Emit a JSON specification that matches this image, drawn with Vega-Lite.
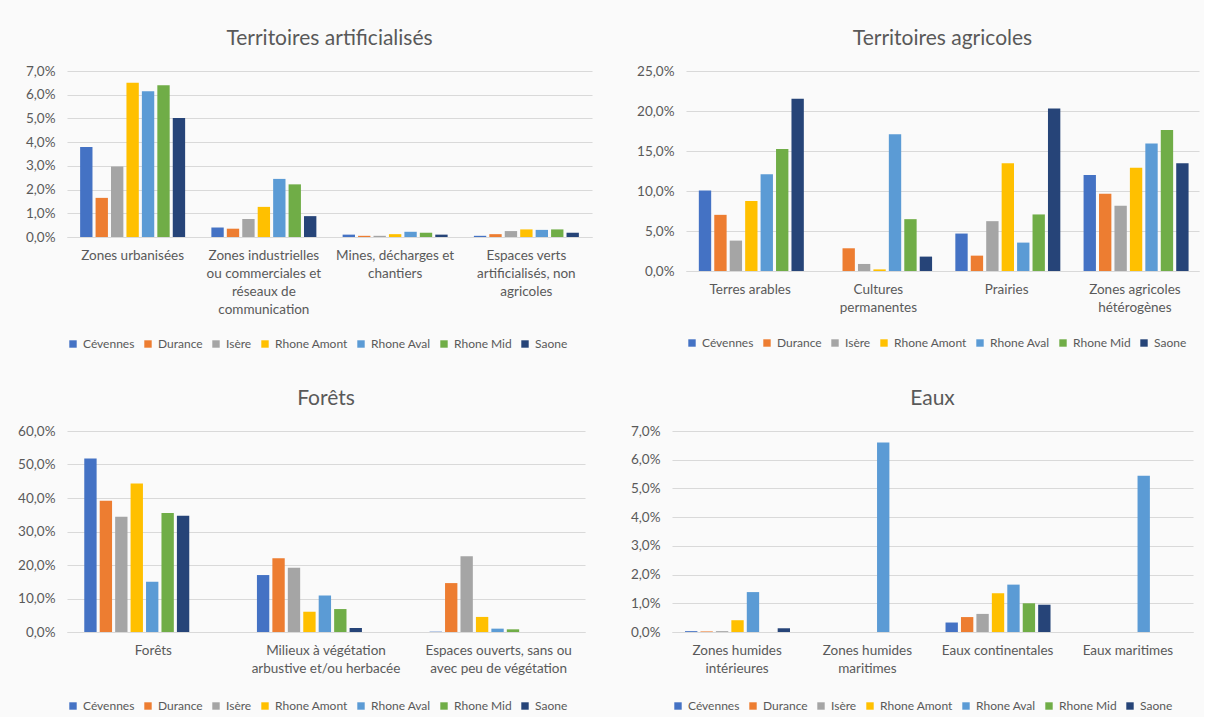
{
  "$schema": "https://vega.github.io/schema/vega-lite/v6.json",
  "background": "#fafafa",
  "padding": {"left": 17, "top": 28, "right": 5, "bottom": 5},
  "datasets": {
    "d": [
      {"p":"A","c":"Zones urbanisées","s":"Cévennes","v":3.79},
      {"p":"A","c":"Zones urbanisées","s":"Durance","v":1.65},
      {"p":"A","c":"Zones urbanisées","s":"Isère","v":2.97},
      {"p":"A","c":"Zones urbanisées","s":"Rhone Amont","v":6.5},
      {"p":"A","c":"Zones urbanisées","s":"Rhone Aval","v":6.15},
      {"p":"A","c":"Zones urbanisées","s":"Rhone Mid","v":6.4},
      {"p":"A","c":"Zones urbanisées","s":"Saone","v":5.02},
      {"p":"A","c":"Zones industrielles|ou commerciales et|réseaux de|communication","s":"Cévennes","v":0.4},
      {"p":"A","c":"Zones industrielles|ou commerciales et|réseaux de|communication","s":"Durance","v":0.35},
      {"p":"A","c":"Zones industrielles|ou commerciales et|réseaux de|communication","s":"Isère","v":0.76},
      {"p":"A","c":"Zones industrielles|ou commerciales et|réseaux de|communication","s":"Rhone Amont","v":1.27},
      {"p":"A","c":"Zones industrielles|ou commerciales et|réseaux de|communication","s":"Rhone Aval","v":2.45},
      {"p":"A","c":"Zones industrielles|ou commerciales et|réseaux de|communication","s":"Rhone Mid","v":2.22},
      {"p":"A","c":"Zones industrielles|ou commerciales et|réseaux de|communication","s":"Saone","v":0.88},
      {"p":"A","c":"Mines, décharges et|chantiers","s":"Cévennes","v":0.1},
      {"p":"A","c":"Mines, décharges et|chantiers","s":"Durance","v":0.05},
      {"p":"A","c":"Mines, décharges et|chantiers","s":"Isère","v":0.05},
      {"p":"A","c":"Mines, décharges et|chantiers","s":"Rhone Amont","v":0.12},
      {"p":"A","c":"Mines, décharges et|chantiers","s":"Rhone Aval","v":0.22},
      {"p":"A","c":"Mines, décharges et|chantiers","s":"Rhone Mid","v":0.18},
      {"p":"A","c":"Mines, décharges et|chantiers","s":"Saone","v":0.1},
      {"p":"A","c":"Espaces verts|artificialisés, non|agricoles","s":"Cévennes","v":0.05},
      {"p":"A","c":"Espaces verts|artificialisés, non|agricoles","s":"Durance","v":0.12},
      {"p":"A","c":"Espaces verts|artificialisés, non|agricoles","s":"Isère","v":0.25},
      {"p":"A","c":"Espaces verts|artificialisés, non|agricoles","s":"Rhone Amont","v":0.32},
      {"p":"A","c":"Espaces verts|artificialisés, non|agricoles","s":"Rhone Aval","v":0.3},
      {"p":"A","c":"Espaces verts|artificialisés, non|agricoles","s":"Rhone Mid","v":0.32},
      {"p":"A","c":"Espaces verts|artificialisés, non|agricoles","s":"Saone","v":0.18},

      {"p":"B","c":"Terres arables","s":"Cévennes","v":10.07},
      {"p":"B","c":"Terres arables","s":"Durance","v":7.02},
      {"p":"B","c":"Terres arables","s":"Isère","v":3.8},
      {"p":"B","c":"Terres arables","s":"Rhone Amont","v":8.74},
      {"p":"B","c":"Terres arables","s":"Rhone Aval","v":12.08},
      {"p":"B","c":"Terres arables","s":"Rhone Mid","v":15.26},
      {"p":"B","c":"Terres arables","s":"Saone","v":21.53},
      {"p":"B","c":"Cultures|permanentes","s":"Cévennes","v":0},
      {"p":"B","c":"Cultures|permanentes","s":"Durance","v":2.84},
      {"p":"B","c":"Cultures|permanentes","s":"Isère","v":0.88},
      {"p":"B","c":"Cultures|permanentes","s":"Rhone Amont","v":0.2},
      {"p":"B","c":"Cultures|permanentes","s":"Rhone Aval","v":17.1},
      {"p":"B","c":"Cultures|permanentes","s":"Rhone Mid","v":6.48},
      {"p":"B","c":"Cultures|permanentes","s":"Saone","v":1.8},
      {"p":"B","c":"Prairies","s":"Cévennes","v":4.68},
      {"p":"B","c":"Prairies","s":"Durance","v":1.92},
      {"p":"B","c":"Prairies","s":"Isère","v":6.23},
      {"p":"B","c":"Prairies","s":"Rhone Amont","v":13.46},
      {"p":"B","c":"Prairies","s":"Rhone Aval","v":3.55},
      {"p":"B","c":"Prairies","s":"Rhone Mid","v":7.07},
      {"p":"B","c":"Prairies","s":"Saone","v":20.3},
      {"p":"B","c":"Zones agricoles|hétérogènes","s":"Cévennes","v":12.0},
      {"p":"B","c":"Zones agricoles|hétérogènes","s":"Durance","v":9.66},
      {"p":"B","c":"Zones agricoles|hétérogènes","s":"Isère","v":8.15},
      {"p":"B","c":"Zones agricoles|hétérogènes","s":"Rhone Amont","v":12.92},
      {"p":"B","c":"Zones agricoles|hétérogènes","s":"Rhone Aval","v":15.93},
      {"p":"B","c":"Zones agricoles|hétérogènes","s":"Rhone Mid","v":17.64},
      {"p":"B","c":"Zones agricoles|hétérogènes","s":"Saone","v":13.46},

      {"p":"C","c":"Forêts","s":"Cévennes","v":51.8},
      {"p":"C","c":"Forêts","s":"Durance","v":39.2},
      {"p":"C","c":"Forêts","s":"Isère","v":34.4},
      {"p":"C","c":"Forêts","s":"Rhone Amont","v":44.3},
      {"p":"C","c":"Forêts","s":"Rhone Aval","v":15.0},
      {"p":"C","c":"Forêts","s":"Rhone Mid","v":35.5},
      {"p":"C","c":"Forêts","s":"Saone","v":34.7},
      {"p":"C","c":"Milieux à végétation|arbustive et/ou herbacée","s":"Cévennes","v":17.0},
      {"p":"C","c":"Milieux à végétation|arbustive et/ou herbacée","s":"Durance","v":22.0},
      {"p":"C","c":"Milieux à végétation|arbustive et/ou herbacée","s":"Isère","v":19.2},
      {"p":"C","c":"Milieux à végétation|arbustive et/ou herbacée","s":"Rhone Amont","v":6.05},
      {"p":"C","c":"Milieux à végétation|arbustive et/ou herbacée","s":"Rhone Aval","v":10.9},
      {"p":"C","c":"Milieux à végétation|arbustive et/ou herbacée","s":"Rhone Mid","v":6.85},
      {"p":"C","c":"Milieux à végétation|arbustive et/ou herbacée","s":"Saone","v":1.2},
      {"p":"C","c":"Espaces ouverts, sans ou|avec peu de végétation","s":"Cévennes","v":0.1},
      {"p":"C","c":"Espaces ouverts, sans ou|avec peu de végétation","s":"Durance","v":14.6},
      {"p":"C","c":"Espaces ouverts, sans ou|avec peu de végétation","s":"Isère","v":22.6},
      {"p":"C","c":"Espaces ouverts, sans ou|avec peu de végétation","s":"Rhone Amont","v":4.5},
      {"p":"C","c":"Espaces ouverts, sans ou|avec peu de végétation","s":"Rhone Aval","v":1.0},
      {"p":"C","c":"Espaces ouverts, sans ou|avec peu de végétation","s":"Rhone Mid","v":0.8},
      {"p":"C","c":"Espaces ouverts, sans ou|avec peu de végétation","s":"Saone","v":0},

      {"p":"D","c":"Zones humides|intérieures","s":"Cévennes","v":0.03},
      {"p":"D","c":"Zones humides|intérieures","s":"Durance","v":0.02},
      {"p":"D","c":"Zones humides|intérieures","s":"Isère","v":0.03},
      {"p":"D","c":"Zones humides|intérieures","s":"Rhone Amont","v":0.41},
      {"p":"D","c":"Zones humides|intérieures","s":"Rhone Aval","v":1.39},
      {"p":"D","c":"Zones humides|intérieures","s":"Rhone Mid","v":0},
      {"p":"D","c":"Zones humides|intérieures","s":"Saone","v":0.13},
      {"p":"D","c":"Zones humides|maritimes","s":"Cévennes","v":0},
      {"p":"D","c":"Zones humides|maritimes","s":"Durance","v":0},
      {"p":"D","c":"Zones humides|maritimes","s":"Isère","v":0},
      {"p":"D","c":"Zones humides|maritimes","s":"Rhone Amont","v":0},
      {"p":"D","c":"Zones humides|maritimes","s":"Rhone Aval","v":6.6},
      {"p":"D","c":"Zones humides|maritimes","s":"Rhone Mid","v":0},
      {"p":"D","c":"Zones humides|maritimes","s":"Saone","v":0},
      {"p":"D","c":"Eaux continentales","s":"Cévennes","v":0.33},
      {"p":"D","c":"Eaux continentales","s":"Durance","v":0.52},
      {"p":"D","c":"Eaux continentales","s":"Isère","v":0.63},
      {"p":"D","c":"Eaux continentales","s":"Rhone Amont","v":1.35},
      {"p":"D","c":"Eaux continentales","s":"Rhone Aval","v":1.65},
      {"p":"D","c":"Eaux continentales","s":"Rhone Mid","v":1.0},
      {"p":"D","c":"Eaux continentales","s":"Saone","v":0.95},
      {"p":"D","c":"Eaux maritimes","s":"Cévennes","v":0},
      {"p":"D","c":"Eaux maritimes","s":"Durance","v":0},
      {"p":"D","c":"Eaux maritimes","s":"Isère","v":0},
      {"p":"D","c":"Eaux maritimes","s":"Rhone Amont","v":0},
      {"p":"D","c":"Eaux maritimes","s":"Rhone Aval","v":5.44},
      {"p":"D","c":"Eaux maritimes","s":"Rhone Mid","v":0},
      {"p":"D","c":"Eaux maritimes","s":"Saone","v":0}
    ]
  },
  "data": {"name": "d"},
  "config": {
    "font": "Lato",
    "view": {"stroke": null},
    "title": {"fontSize": 21, "fontWeight": "normal", "color": "#595959", "anchor": "middle", "offset": 15},
    "axis": {"labelColor": "#595959", "ticks": false, "grid": false, "domainColor": "#d9d9d9", "title": null},
    "axisY": {"grid": true, "gridColor": "#d9d9d9", "domain": false, "labelPadding": 12, "labelFontSize": 13.5},
    "axisX": {"labelAngle": 0, "labelPadding": 11, "labelLineHeight": 18, "labelFontSize": 13.5, "labelExpr": "split(datum.label, '|')"},
    "legend": {"orient": "bottom", "direction": "horizontal", "symbolType": "square", "symbolSize": 55, "labelFontSize": 12, "labelColor": "#595959", "columnPadding": 7, "title": null, "symbolStrokeWidth": 0},
    "bar": {"stroke": null}
  },
  "vconcat": [
    {
      "hconcat": [
        {
          "title": "Territoires artificialisés",
          "width": 525, "height": 166,
          "transform": [{"filter": "datum.p == 'A'"}],
          "mark": "bar",
          "encoding": {
            "x": {"field": "c", "type": "nominal", "sort": null, "scale": {"paddingInner": 0.2, "paddingOuter": 0.1}},
            "xOffset": {"field": "s", "type": "nominal", "sort": null, "scale": {"paddingInner": 0.2}},
            "y": {"field": "v", "type": "quantitative", "scale": {"domain": [0, 7]}, "axis": {"values": [0,1,2,3,4,5,6,7], "labelExpr": "replace(format(datum.value,'.1f'),'.',',') + '%'"}},
            "color": {"field": "s", "type": "nominal", "sort": null, "legend": {"offset": 22}, "scale": {"domain": ["Cévennes","Durance","Isère","Rhone Amont","Rhone Aval","Rhone Mid","Saone"], "range": ["#4472C4","#ED7D31","#A5A5A5","#FFC000","#5B9BD5","#70AD47","#264478"]}}
          }
        },
        {
          "title": "Territoires agricoles",
          "width": 513, "height": 200,
          "transform": [{"filter": "datum.p == 'B'"}],
          "mark": "bar",
          "encoding": {
            "x": {"field": "c", "type": "nominal", "sort": null, "scale": {"paddingInner": 0.2, "paddingOuter": 0.1}},
            "xOffset": {"field": "s", "type": "nominal", "sort": null, "scale": {"paddingInner": 0.2}},
            "y": {"field": "v", "type": "quantitative", "scale": {"domain": [0, 25]}, "axis": {"values": [0,5,10,15,20,25], "labelExpr": "replace(format(datum.value,'.1f'),'.',',') + '%'"}},
            "color": {"field": "s", "type": "nominal", "sort": null, "legend": {"offset": 23}, "scale": {"domain": ["Cévennes","Durance","Isère","Rhone Amont","Rhone Aval","Rhone Mid","Saone"], "range": ["#4472C4","#ED7D31","#A5A5A5","#FFC000","#5B9BD5","#70AD47","#264478"]}}
          }
        }
      ],
      "bounds": "flush",
      "spacing": 94,
      "resolve": {"legend": {"color": "independent"}}
    },
    {
      "hconcat": [
        {
          "title": "Forêts",
          "width": 518, "height": 201,
          "transform": [{"filter": "datum.p == 'C'"}],
          "mark": "bar",
          "encoding": {
            "x": {"field": "c", "type": "nominal", "sort": null, "scale": {"paddingInner": 0.2, "paddingOuter": 0.1}},
            "xOffset": {"field": "s", "type": "nominal", "sort": null, "scale": {"paddingInner": 0.2}},
            "y": {"field": "v", "type": "quantitative", "scale": {"domain": [0, 60]}, "axis": {"values": [0,10,20,30,40,50,60], "labelExpr": "replace(format(datum.value,'.1f'),'.',',') + '%'"}},
            "color": {"field": "s", "type": "nominal", "sort": null, "legend": {"offset": 25}, "scale": {"domain": ["Cévennes","Durance","Isère","Rhone Amont","Rhone Aval","Rhone Mid","Saone"], "range": ["#4472C4","#ED7D31","#A5A5A5","#FFC000","#5B9BD5","#70AD47","#264478"]}}
          }
        },
        {
          "title": "Eaux",
          "width": 521, "height": 201,
          "transform": [{"filter": "datum.p == 'D'"}],
          "mark": "bar",
          "encoding": {
            "x": {"field": "c", "type": "nominal", "sort": null, "scale": {"paddingInner": 0.2, "paddingOuter": 0.1}},
            "xOffset": {"field": "s", "type": "nominal", "sort": null, "scale": {"paddingInner": 0.2}},
            "y": {"field": "v", "type": "quantitative", "scale": {"domain": [0, 7]}, "axis": {"values": [0,1,2,3,4,5,6,7], "labelExpr": "replace(format(datum.value,'.1f'),'.',',') + '%'"}},
            "color": {"field": "s", "type": "nominal", "sort": null, "legend": {"offset": 25}, "scale": {"domain": ["Cévennes","Durance","Isère","Rhone Amont","Rhone Aval","Rhone Mid","Saone"], "range": ["#4472C4","#ED7D31","#A5A5A5","#FFC000","#5B9BD5","#70AD47","#264478"]}}
          }
        }
      ],
      "bounds": "flush",
      "spacing": 87,
      "resolve": {"legend": {"color": "independent"}}
    }
  ],
  "spacing": 38,
  "resolve": {"legend": {"color": "independent"}}
}
